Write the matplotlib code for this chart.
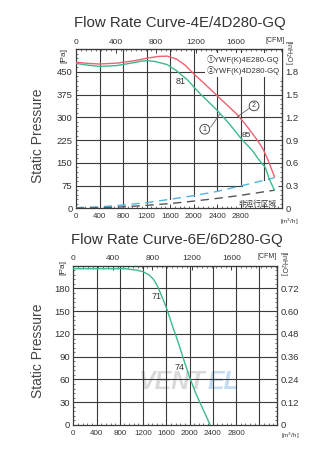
import numpy as np
import matplotlib
matplotlib.use("Agg")
import matplotlib.pyplot as plt
from matplotlib.ticker import MultipleLocator, FixedLocator

plt.rcParams['font.family'] = ['Liberation Sans', 'Noto Sans CJK SC', 'DejaVu Sans']

# ---------------- data: chart 1 (4E/4D280-GQ) ----------------
red_x = [0, 200, 400, 700, 1000, 1200, 1400, 1550, 1700, 1850, 1978, 2200, 2500, 2747, 2900, 3089, 3180, 3262, 3373]
red_y = [482, 478, 476, 479, 487, 495, 501, 502, 493, 473, 448, 408, 353, 308, 272, 223, 195, 160, 104]
green_x = [0, 200, 410, 700, 1000, 1100, 1208, 1350, 1550, 1700, 1892, 2100, 2405, 2600, 2803, 3000, 3089, 3220, 3290, 3373]
green_y = [478, 472, 468, 471, 481, 485, 487, 484, 474, 455, 424, 380, 322, 280, 231, 190, 165, 134, 94, 60]
blue_x = [0, 400, 800, 1200, 1600, 2000, 2400, 2800, 3373]
blue_y = [2, 5, 11, 19, 30, 42, 56, 74, 101]
gray_x = [0, 400, 800, 1200, 1600, 2000, 2400, 2800, 3373]
gray_y = [1, 2, 5, 10, 16, 24, 33, 43, 60]

x_ticks1 = [0, 400, 800, 1200, 1600, 2000, 2400, 2800, 3200]
x_labels1 = ['0', '400', '800', '1200', '1600', '2000', '2400', '2800', '']
y_ticks1 = [0, 75, 150, 225, 300, 375, 450, 525]
y_labels1 = ['0', '75', '150', '225', '300', '375', '450', '']
cfm_ticks = [0, 400, 800, 1200, 1600]
inh2o_ticks1 = [0, 0.3, 0.6, 0.9, 1.2, 1.5, 1.8]
inh2o_labels1 = ['0', '0.3', '0.6', '0.9', '1.2', '1.5', '1.8']

# ---------------- data: chart 2 (6E/6D280-GQ) ----------------
g2_x = [0, 400, 700, 900, 1000, 1100, 1200, 1300, 1380, 1450, 1520, 1600, 1700, 1800, 1900, 2000, 2100, 2200, 2355]
g2_y = [206, 206, 206, 206, 205, 204, 202, 198, 192, 183, 170, 155, 132, 110, 86, 63, 43, 26, 0]
x_ticks2 = [0, 400, 800, 1200, 1600, 2000, 2400, 2800, 3200]
x_labels2 = ['0', '400', '800', '1200', '1600', '2000', '2400', '2800', '']
y_ticks2 = [0, 30, 60, 90, 120, 150, 180, 210]
y_labels2 = ['0', '30', '60', '90', '120', '150', '180', '']
inh2o_ticks2 = [0, 0.12, 0.24, 0.36, 0.48, 0.60, 0.72]
inh2o_labels2 = ['0', '0.12', '0.24', '0.36', '0.48', '0.60', '0.72']

RED = '#e86470'
GREEN = '#3dba8c'
BLUE = '#4fb4e2'
GRAYD = '#555555'
TXT = '#333333'
GRID = '#3a3a3a'

M3H_PER_CFM = 1.699
PA_PER_INH2O = 250.0

fig = plt.figure(figsize=(3.29, 4.55), dpi=100)


def style_axes(ax, xt, xl, yt, yl, ymax, ymin_step, inh_t, inh_l, inh_minor):
    ax.set_xlim(0, 3500)
    ax.set_ylim(0, ymax)
    for s in ax.spines.values():
        s.set_color(GRID)
        s.set_linewidth(0.9)
    ax.set_xticks(xt)
    ax.set_xticklabels(xl)
    ax.set_yticks(yt)
    ax.set_yticklabels(yl)
    ax.xaxis.set_minor_locator(MultipleLocator(80))
    ax.yaxis.set_minor_locator(MultipleLocator(ymin_step))
    ax.tick_params(axis='both', which='major', direction='in', length=3, width=0.7, color=GRID)
    ax.tick_params(axis='both', which='minor', direction='in', length=1.6, width=0.5, color=GRID)
    ax.tick_params(axis='x', labelsize=5.8, pad=3.5, labelcolor=TXT)
    ax.tick_params(axis='y', labelsize=6.8, pad=2.5, labelcolor=TXT)

    top = ax.secondary_xaxis('top', functions=(lambda v: v / M3H_PER_CFM, lambda v: v * M3H_PER_CFM))
    top.set_xticks(cfm_ticks)
    top.xaxis.set_minor_locator(MultipleLocator(50))
    top.tick_params(which='major', direction='in', length=3, width=0.7, color=GRID, labelsize=6, pad=2.5, labelcolor=TXT)
    top.tick_params(which='minor', direction='in', length=1.6, width=0.5, color=GRID)
    top.spines['top'].set_color(GRID)

    right = ax.secondary_yaxis('right', functions=(lambda v: v / PA_PER_INH2O, lambda v: v * PA_PER_INH2O))
    right.yaxis.set_major_locator(FixedLocator(inh_t))
    right.set_yticklabels(inh_l)
    right.yaxis.set_minor_locator(MultipleLocator(inh_minor))
    right.tick_params(which='major', direction='in', length=3, width=0.7, color=GRID, labelsize=6.8, pad=2.5, labelcolor=TXT)
    right.tick_params(which='minor', direction='in', length=1.6, width=0.5, color=GRID)
    right.spines['right'].set_color(GRID)


# ================= chart 1 =================
ax1 = fig.add_axes([0.231, 0.542, 0.626, 0.350])
style_axes(ax1, x_ticks1, x_labels1, y_ticks1, y_labels1, 525, 15, inh2o_ticks1, inh2o_labels1, 0.06)

# grid clipped above the non-operating region (blue dashed line)
for gx in x_ticks1[1:]:
    y0 = np.interp(gx, blue_x, blue_y)
    ax1.plot([gx, gx], [y0, 525], color=GRID, lw=0.8, zorder=1)
for gy in y_ticks1[1:-1]:
    if gy < max(blue_y):
        xe = np.interp(gy, blue_y, blue_x)
    else:
        xe = 3500
    ax1.plot([0, xe], [gy, gy], color=GRID, lw=0.8, zorder=1)

ax1.plot(blue_x, blue_y, color=BLUE, lw=1.0, ls=(0, (6, 4)), zorder=3)
ax1.plot(gray_x, gray_y, color=GRAYD, lw=1.0, ls=(0, (6, 4)), zorder=3)
ax1.plot(red_x, red_y, color=RED, lw=1.0, zorder=4)
ax1.plot(green_x, green_y, color=GREEN, lw=1.0, zorder=4)

ax1.text(1778, 418, '81', fontsize=6.5, color=TXT, ha='center', va='center', zorder=5)
ax1.text(2889, 240, '85', fontsize=6, color=TXT, ha='center', va='center', zorder=5)
ax1.text(3094, 14, '非运行区域', fontsize=5.5, color=TXT, ha='center', va='center', zorder=5)

# circled number call-outs
ax1.plot([2747, 2946], [303, 330], color='#666666', lw=0.6, zorder=5)
ax1.text(3026, 338, '2', fontsize=5, color=TXT, ha='center', va='center', zorder=6,
         bbox=dict(boxstyle='circle,pad=0.2', fc='white', ec=TXT, lw=0.6))
ax1.plot([2290, 2440], [268, 310], color='#666666', lw=0.6, zorder=5)
ax1.text(2188, 261, '1', fontsize=5, color=TXT, ha='center', va='center', zorder=6,
         bbox=dict(boxstyle='circle,pad=0.2', fc='white', ec=TXT, lw=0.6))

# legend box
ax1.text(0.635, 0.965, '①YWF(K)4E280-GQ\n②YWF(K)4D280-GQ', transform=ax1.transAxes,
         fontsize=5.6, color=TXT, ha='left', va='top', linespacing=1.35, zorder=6,
         bbox=dict(boxstyle='square,pad=0.25', fc='white', ec='none'))

fig.text(0.547, 0.949, 'Flow Rate Curve-4E/4D280-GQ', fontsize=10.8, color=TXT, ha='center', va='center')
fig.text(0.115, 0.702, 'Static Pressure', fontsize=10, color='#444444', rotation=90, ha='center', va='center')
fig.text(0.193, 0.879, '[Pa]', fontsize=6, color=TXT, rotation=90, ha='center', va='center')
fig.text(0.876, 0.885, '[inH$_2$O]', fontsize=5, color=TXT, rotation=-90, ha='center', va='center')
fig.text(0.836, 0.912, '[CFM]', fontsize=5, color=TXT, ha='center', va='center')
fig.text(0.879, 0.513, '[m$^3$/h]', fontsize=4.5, color=TXT, ha='center', va='center')

# ================= chart 2 =================
ax2 = fig.add_axes([0.223, 0.066, 0.618, 0.350])
style_axes(ax2, x_ticks2, x_labels2, y_ticks2, y_labels2, 210, 6, inh2o_ticks2, inh2o_labels2, 0.024)
for gx in x_ticks2[1:]:
    ax2.plot([gx, gx], [0, 210], color=GRID, lw=0.8, zorder=1)
for gy in y_ticks2[1:-1]:
    ax2.plot([0, 3500], [gy, gy], color=GRID, lw=0.8, zorder=1)

# faint watermark
ax2.text(0.32, 0.27, 'VENT', transform=ax2.transAxes, fontsize=18, fontweight='bold', style='italic',
         color='#dadada', ha='left', va='center', zorder=0.5)
ax2.text(0.66, 0.27, 'EL', transform=ax2.transAxes, fontsize=18, fontweight='bold', style='italic',
         color='#c4dcf2', ha='left', va='center', zorder=0.5)

ax2.plot(g2_x, g2_y, color=GREEN, lw=1.0, zorder=4)
ax2.text(1435, 169, '71', fontsize=6.5, color=TXT, ha='center', va='center', zorder=5)
ax2.text(1829, 76, '74', fontsize=6.5, color=TXT, ha='center', va='center', zorder=5)

fig.text(0.537, 0.473, 'Flow Rate Curve-6E/6D280-GQ', fontsize=10.8, color=TXT, ha='center', va='center')
fig.text(0.115, 0.229, 'Static Pressure', fontsize=10, color='#444444', rotation=90, ha='center', va='center')
fig.text(0.190, 0.411, '[Pa]', fontsize=6, color=TXT, rotation=90, ha='center', va='center')
fig.text(0.862, 0.422, '[inH$_2$O]', fontsize=5, color=TXT, rotation=-90, ha='center', va='center')
fig.text(0.812, 0.436, '[CFM]', fontsize=5, color=TXT, ha='center', va='center')
fig.text(0.883, 0.043, '[m$^3$/h]', fontsize=4.5, color=TXT, ha='center', va='center')

fig.savefig('out.png', dpi=100, facecolor='white')
